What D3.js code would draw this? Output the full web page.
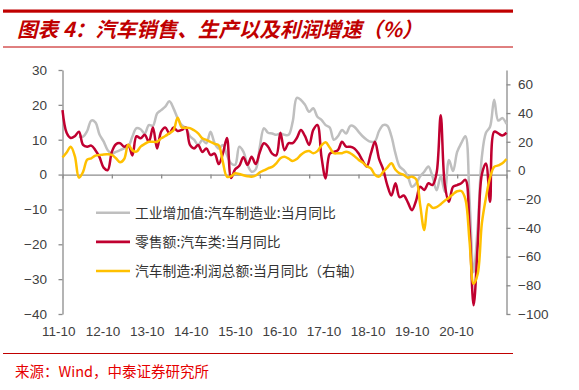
<!DOCTYPE html>
<html lang="zh">
<head>
  <meta charset="UTF-8">
  <title>汽车销售、生产以及利润增速</title>
  <script src="https://d3js.org/d3.v7.min.js"></script>
  <style>
    body { margin: 0; background: #fff; }
    svg { display: block; }
    .axis text { font-family: "Liberation Sans", Arial, sans-serif; font-size: 13.5px; fill: #404040; }
    .axis path, .axis line { stroke: #8c8c8c; stroke-width: 1.3; }
    .legend text { font-family: "Noto Sans CJK SC", sans-serif; font-size: 13.8px; fill: #333; }
  </style>
</head>
<body>
<svg width="579" height="390"></svg>
<script>
  // monthly, 2011-10 .. 2020-10
  const months = d3.timeMonth.range(new Date(2011, 9, 1), new Date(2020, 10, 1)).map(d3.timeFormat("%y-%m"));
  const xLabels = ["11-10", "12-10", "13-10", "14-10", "15-10", "16-10", "17-10", "18-10", "19-10", "20-10"];
  const leftTicks = [30, 20, 10, 0, -10, -20, -30, -40];
  const rightTicks = [60, 40, 20, 0, -20, -40, -60, -80, -100];

  // 工业增加值:汽车制造业:当月同比 (left), starts 2012-02
  const industry = [null, null, null, null, 10.9, 10.9, 12.5, 15.5, 15, 11.5,
    9.5, 7, 6, 6.5, 7, 7.5, 8, 10.9, 13.3, 13,
    11.8, 14.2, 14, 17.5, 18.5, 19.5, 21, 19, 16.2, 14.2,
    13.3, 11, 10, 8.5, 9.9, 9, 12.3, 9, 7.5, 8.5,
    5.6, 3.2, 2.8, 8, 6.6, 2.8, 0.8, 1.5, 8, 13.3,
    12, 11.8, 11.4, 11.8, 11.4, 11.4, 15.2, 22, 21.4, 20,
    18, 19, 16.6, 15.7, 14.2, 13.5, 10, 11, 12.8, 11.8,
    14, 13.7, 12.3, 11, 10, 9.4, 9.6, 12.5, 14.2, 14,
    11, 6, 2.3, 1.3, -0.5, -3.5, -2.5, -0.5, 0.8, 2.3,
    -0.6, -4.5, -0.5, -4.9, 4.2, 1, 6.5, 9, 11, -7,
    -28, -15, 5, 12, 13.7, 21.5, 15.5, 16.2, 14.5];

  // 零售额:汽车类:当月同比 (left)
  const retail = [18.5, 12, 10.5, 11, 12.3, 8.5, 8, 8.3, 7, 5,
    2, 1.3, 6.5, 8.7, 9, 8, 8.5, 5.5, 11, 10.4,
    11.4, 9.4, 13.5, 7.5, 12.3, 13.5, 11.8, 13.5, 12.5, 12.8,
    13.5, 8.5, 7.5, 8.5, 6.5, 7.5, 5.6, 6, 3, 6,
    10.5, -1, 1.5, 2.5, 5, 2.8, 5.1, 3, 6.5, 9,
    8, 6, 5.5, 12, 7, 9, 9, 10.5, 12.8, 11,
    8.5, 12.8, 14.2, 5, -1.1, 6, 6.5, 7, 9.4, 8,
    8, 7.5, 6.1, 4, 2.3, 6, 9.4, 4.5, 1.5, -3,
    -6, -2.5, -6.5, -6, -8, -10.2, -7.5, -3.5, -4.4, -2.5,
    -3, 0.5, 17, -3, -7.8, -3.5, -3, -2.5, -1.5, -15,
    -37.5, -20, 0, 3.2, -7.8, 12.3, 11.8, 11.2, 12];

  // 汽车制造:利润总额:当月同比 (right)
  const profit = [9, 12.5, 16.5, 10, -5, -1, 7.5, 8.5, 10.3, 10.8,
    11.2, 11.3, 10.8, 8.5, 5.7, 8, 18, 14, 13.1, 16.6,
    18.5, 20, 20, 20, 22.4, 24, 26, 28, 36.8, 30,
    29.8, 29.5, 28, 25.9, 22.4, 21.3, 20, 18.5, 17.5, 6,
    -4.3, -4, -2, -2.5, -3.3, -4, -4.3, -3.5, -1.3, 0,
    1.5, 2.5, 5, 8.5, 9.5, 8.2, 6.6, 8, 11, 13,
    13.6, 12, 13.5, 17.5, 19.6, 16, 12, 12, 12, 13.1,
    12, 10, 7.5, 5.5, 3, 1.5, -3, -4.3, -1, 2,
    5, 0.5, -2, -3, -5, -4.3, -6, -24, -41.5, -23.5,
    -26, -25.5, -23.5, -21, -19, -16.5, -14.5, -14.3, -20, -49,
    -79, -72, -37, -19, -5, 2.5, 3.5, 5, 8];

  const series = [
    { name: "工业增加值:汽车制造业:当月同比", values: industry, axis: "left", color: "#bfbfbf" },
    { name: "零售额:汽车类:当月同比", values: retail, axis: "left", color: "#c00030" },
    { name: "汽车制造:利润总额:当月同比（右轴）", values: profit, axis: "right", color: "#ffc000" }
  ];

  const svg = d3.select("svg");
  const plot = { left: 62.5, right: 506.5, top: 70, bottom: 314 };

  const x = d3.scalePoint().domain(months).range([plot.left, plot.right]);
  const yL = d3.scaleLinear().domain([-40, 30]).range([plot.bottom, plot.top]);
  const yR = d3.scaleLinear().domain([-100, 70]).range([plot.bottom, plot.top]);
  const xLab = d3.scalePoint().domain(xLabels).range([58.3, 456]);

  // header
  svg.append("rect").attr("x", 3).attr("y", 9.5).attr("width", 510).attr("height", 3.2).attr("fill", "#c00000");
  svg.append("text")
    .attr("x", 17).attr("y", 37)
    .attr("font-family", "'Noto Sans CJK SC', sans-serif")
    .attr("font-size", 20.5).attr("font-weight", "bold").attr("font-style", "italic")
    .attr("fill", "#c00000")
    .text("图表 4：汽车销售、生产以及利润增速（%）");
  svg.append("line").attr("x1", 3).attr("x2", 513).attr("y1", 47).attr("y2", 47)
    .attr("stroke", "#c00000").attr("stroke-width", 1);

  // axes
  svg.append("g").attr("class", "axis")
    .attr("transform", `translate(${plot.left},0)`)
    .call(d3.axisLeft(yL).tickValues(leftTicks).tickSize(4).tickSizeOuter(0).tickPadding(11.5));

  svg.append("g").attr("class", "axis")
    .attr("transform", `translate(${plot.right},0)`)
    .call(d3.axisRight(yR).tickValues(rightTicks).tickSize(4).tickSizeOuter(0).tickPadding(7.5));

  svg.append("g").attr("class", "axis")
    .attr("transform", `translate(0,${yL(0)})`)
    .call(d3.axisBottom(x).tickValues(months.filter(m => m.endsWith("-10"))).tickSize(4).tickSizeOuter(0).tickFormat(""));

  const xl = svg.append("g").attr("class", "axis")
    .attr("transform", "translate(0,326)")
    .call(d3.axisBottom(xLab).tickSize(0).tickPadding(0));
  xl.select(".domain").remove();

  // lines
  series.forEach(s => {
    const y = s.axis === "left" ? yL : yR;
    const line = d3.line()
      .defined(d => d != null)
      .x((d, i) => x(months[i]))
      .y(d => y(d))
      .curve(d3.curveCatmullRom.alpha(0.5));
    svg.append("path")
      .datum(s.values)
      .attr("fill", "none")
      .attr("stroke", s.color)
      .attr("stroke-width", 2.5)
      .attr("stroke-linejoin", "round")
      .attr("d", line);
  });

  // legend
  const legend = svg.append("g").attr("class", "legend");
  const ly = d3.scalePoint().domain(series.map(s => s.name)).range([212.7, 271]);
  series.forEach(s => {
    legend.append("line")
      .attr("x1", 96).attr("x2", 130)
      .attr("y1", ly(s.name)).attr("y2", ly(s.name))
      .attr("stroke", s.color).attr("stroke-width", 2.6);
    legend.append("text")
      .attr("x", 135).attr("y", ly(s.name)).attr("dy", "0.36em")
      .text(s.name);
  });

  // footer
  svg.append("line").attr("x1", 3).attr("x2", 513).attr("y1", 353.5).attr("y2", 353.5)
    .attr("stroke", "#c00000").attr("stroke-width", 1);
  svg.append("text")
    .attr("x", 15).attr("y", 377)
    .attr("font-family", "'Noto Sans CJK SC', sans-serif")
    .attr("font-size", 14.5)
    .attr("fill", "#e60000")
    .text("来源：Wind，中泰证券研究所");
</script>
</body>
</html>
